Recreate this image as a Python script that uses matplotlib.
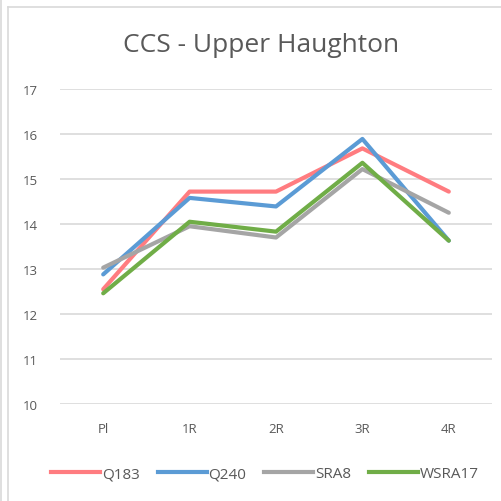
import matplotlib
matplotlib.use("Agg")
import matplotlib.pyplot as plt
from matplotlib.lines import Line2D

categories = ["Pl", "1R", "2R", "3R", "4R"]
q183 = [12.55, 14.72, 14.72, 15.68, 14.72]
q240 = [12.88, 14.58, 14.39, 15.89, 13.63]
sra8 = [13.03, 13.95, 13.70, 15.22, 14.25]
wsra17 = [12.46, 14.05, 13.83, 15.36, 13.63]
series = [("Q183", q183, "#FF7C80"), ("Q240", q240, "#5B9BD5"),
          ("SRA8", sra8, "#A5A5A5"), ("WSRA17", wsra17, "#70AD47")]
yticks = [10, 11, 12, 13, 14, 15, 16, 17]

plt.rcParams['font.family'] = ['Open Sans', 'DejaVu Sans']
W = 502
fig = plt.figure(figsize=(5.02, 5.02), dpi=100)
ax = fig.add_axes([60 / W, 1 - 405 / W, 432 / W, 315 / W])

x = list(range(len(categories)))
for name, vals, col in series:
    ax.plot(x, vals, color=col, lw=3, label=name, solid_capstyle='round', solid_joinstyle='round')

ax.set_xlim(-0.5, len(categories) - 0.5)
ax.set_ylim(10, 17)
ax.set_yticks(yticks)
ax.set_xticks(x)
ax.set_xticklabels(categories)
ax.grid(axis='y', color='#D9D9D9', lw=1.2)
ax.set_axisbelow(True)
for s in ax.spines.values():
    s.set_visible(False)
ax.tick_params(length=0, colors='#595959', labelsize=9.5)
ax.tick_params(axis='x', pad=13)
for t in ax.get_yticklabels():
    t.set_horizontalalignment('left')
ax.tick_params(axis='y', pad=27)

fig.text(261 / W, 1 - 45 / W, "CCS - Upper Haughton", ha='center', va='center',
         fontsize=19, color='#595959')

handles = [Line2D([0], [0], color=c, lw=3) for _, _, c in series]
fig.legend(handles, [n for n, _, _ in series], loc='center', bbox_to_anchor=(265 / W, 1 - 475 / W),
           ncol=4, frameon=False, fontsize=11, handlelength=3.2, handletextpad=0.1,
           columnspacing=1.2, labelcolor='#595959')

fig.add_artist(Line2D([8 / W, 8 / W], [0, 1 - 8 / W], color='#D9D9D9', lw=1.2))
fig.add_artist(Line2D([8 / W, 1], [1 - 8 / W, 1 - 8 / W], color='#D9D9D9', lw=1.2))
fig.add_artist(Line2D([1.5 / W, 1.5 / W], [0, 1], color='#D9D9D9', lw=1.2))

fig.savefig("out.png", dpi=100)
